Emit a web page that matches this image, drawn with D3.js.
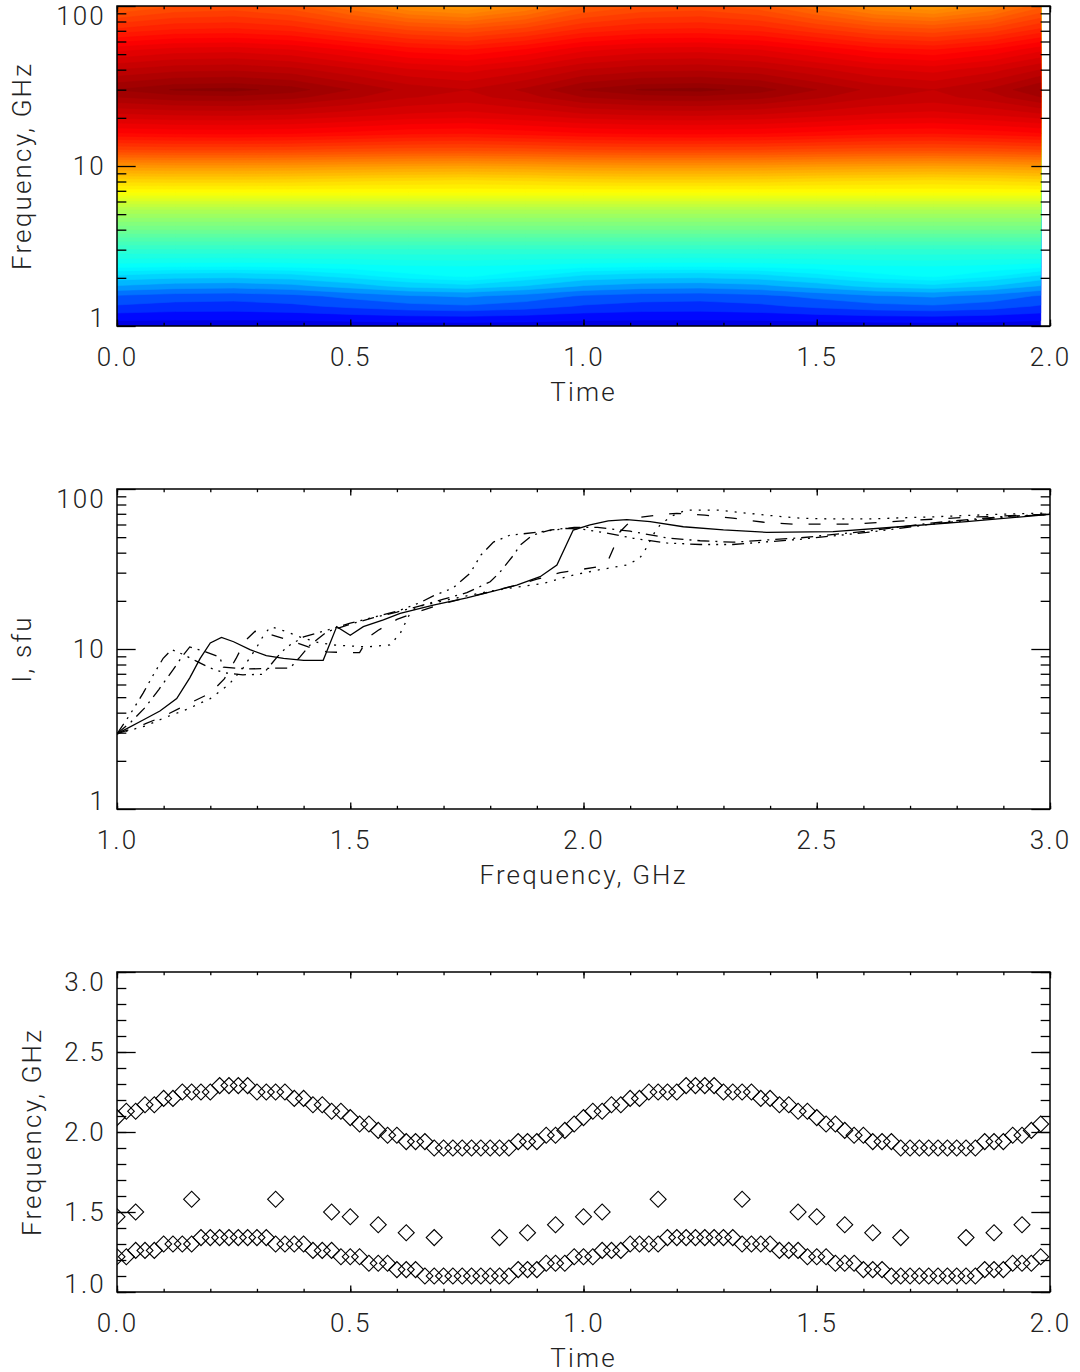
<!DOCTYPE html>
<html>
<head>
<meta charset="utf-8">
<script src="https://cdn.jsdelivr.net/npm/d3@7"></script>
<style>
  html, body { margin: 0; padding: 0; background: #fff; }
  svg { display: block; }
  text { font-family: Roboto, "Liberation Sans", sans-serif; font-weight: 300; font-size: 26px; fill: #222; letter-spacing: 2.2px; }
</style>
</head>
<body>
<svg id="chart" width="1080" height="1372"></svg>
<script>
// ---- panel 1: dynamic spectrum, colour level per (frequency row, time column)
const mapTimes = [0, 0.125, 0.25, 0.375, 0.5, 0.625, 0.75, 0.875, 1.0, 1.125, 1.25, 1.375, 1.5, 1.625, 1.75, 1.875, 1.98];
const mapFreqs = [1.0, 1.15, 1.33, 1.54, 1.78, 2.05, 2.37, 3.0, 4.0, 5.3, 6.9, 8.2, 10, 12.6, 16, 21, 27, 30, 40, 53, 71, 100];
const mapLevels = [
  [0.09,0.09,0.09,0.09,0.092,0.094,0.095,0.094,0.09,0.09,0.09,0.09,0.092,0.094,0.095,0.094,0.09],
  [0.135,0.131,0.13,0.133,0.14,0.147,0.15,0.144,0.135,0.131,0.13,0.133,0.14,0.147,0.15,0.144,0.135],
  [0.181,0.172,0.17,0.177,0.193,0.208,0.215,0.202,0.181,0.172,0.17,0.177,0.193,0.208,0.215,0.202,0.181],
  [0.215,0.203,0.20,0.209,0.23,0.251,0.26,0.242,0.215,0.203,0.20,0.209,0.23,0.251,0.26,0.242,0.215],
  [0.288,0.274,0.27,0.281,0.305,0.33,0.34,0.319,0.288,0.274,0.27,0.281,0.305,0.33,0.34,0.319,0.288],
  [0.341,0.332,0.33,0.337,0.353,0.368,0.375,0.362,0.341,0.332,0.33,0.337,0.353,0.368,0.375,0.362,0.341],
  [0.378,0.376,0.375,0.377,0.38,0.384,0.385,0.382,0.378,0.376,0.375,0.377,0.38,0.384,0.385,0.382,0.378],
  [0.42,0.42,0.42,0.42,0.42,0.42,0.42,0.42,0.42,0.42,0.42,0.42,0.42,0.42,0.42,0.42,0.42],
  [0.485,0.485,0.485,0.485,0.485,0.485,0.485,0.485,0.485,0.485,0.485,0.485,0.485,0.485,0.485,0.485,0.485],
  [0.545,0.545,0.545,0.545,0.545,0.545,0.545,0.545,0.545,0.545,0.545,0.545,0.545,0.545,0.545,0.545,0.545],
  [0.625,0.625,0.625,0.625,0.625,0.625,0.625,0.625,0.625,0.625,0.625,0.625,0.625,0.625,0.625,0.625,0.625],
  [0.668,0.67,0.67,0.669,0.665,0.662,0.66,0.663,0.668,0.67,0.67,0.669,0.665,0.662,0.66,0.663,0.668],
  [0.728,0.73,0.73,0.729,0.725,0.722,0.72,0.723,0.728,0.73,0.73,0.729,0.725,0.722,0.72,0.723,0.728],
  [0.808,0.81,0.81,0.809,0.805,0.802,0.80,0.803,0.808,0.81,0.81,0.809,0.805,0.802,0.80,0.803,0.808],
  [0.871,0.874,0.875,0.873,0.868,0.862,0.86,0.865,0.871,0.874,0.875,0.873,0.868,0.862,0.86,0.865,0.871],
  [0.92,0.924,0.925,0.922,0.915,0.908,0.905,0.911,0.92,0.924,0.925,0.922,0.915,0.908,0.905,0.911,0.92],
  [0.96,0.968,0.97,0.964,0.95,0.936,0.93,0.942,0.96,0.968,0.97,0.964,0.95,0.936,0.93,0.942,0.96],
  [0.973,0.983,0.985,0.978,0.96,0.943,0.935,0.95,0.973,0.983,0.985,0.978,0.96,0.943,0.935,0.95,0.973],
  [0.935,0.943,0.945,0.939,0.925,0.911,0.905,0.917,0.935,0.943,0.945,0.939,0.925,0.911,0.905,0.917,0.935],
  [0.894,0.903,0.905,0.898,0.883,0.867,0.86,0.874,0.894,0.903,0.905,0.898,0.883,0.867,0.86,0.874,0.894],
  [0.838,0.848,0.85,0.843,0.825,0.808,0.80,0.815,0.838,0.848,0.85,0.843,0.825,0.808,0.80,0.815,0.838],
  [0.78,0.796,0.80,0.788,0.76,0.732,0.72,0.744,0.78,0.796,0.80,0.788,0.76,0.732,0.72,0.744,0.78]
];
// contour levels: coarse in the blue part, fine above it
const mapThresholds = [0.08, 0.115, 0.15, 0.185, 0.22, 0.255, 0.29, 0.32, 0.345, 0.36, 0.3725, 0.385, 0.3975, 0.41, 0.4225, 0.435, 0.4475, 0.46, 0.4725, 0.485, 0.4975, 0.51, 0.5225, 0.535, 0.5475, 0.56, 0.5725, 0.585, 0.5975, 0.61, 0.6225, 0.635, 0.6475, 0.66, 0.6725, 0.685, 0.6975, 0.71, 0.7225, 0.735, 0.7475, 0.76, 0.7725, 0.785, 0.7975, 0.81, 0.8225, 0.835, 0.8475, 0.86, 0.8725, 0.885, 0.8975, 0.91, 0.9225, 0.935, 0.9475, 0.96, 0.9725, 0.982];

// ---- panel 2: spectra at five times (frequency GHz, flux sfu)
const specSolidF = [1.00,1.056,1.092,1.128,1.156,1.178,1.20,1.224,1.25,1.285,1.32,1.357,1.40,1.442,1.471,1.50,1.528,1.571,1.607,1.678,1.75,1.807,1.857,1.907,1.943,1.978,2.014,2.053,2.093,2.143,2.214,2.30,2.393,2.535,2.678,2.821,3.00];
const specSolidI = [2.95,3.6,4.1,4.9,6.6,8.7,10.9,11.8,11.1,9.9,9.1,8.75,8.5,8.5,13.8,12.2,13.8,15.2,16.7,18.8,20.9,23.0,25.1,28.3,33.5,55.4,59.6,63.2,64.3,62.5,58.1,55.5,53.6,54.1,58.1,62.5,69.5];
const specDotF = [1.00,1.06,1.10,1.15,1.20,1.24,1.27,1.30,1.315,1.33,1.364,1.392,1.43,1.464,1.535,1.585,1.607,1.628,1.642,1.70,1.75,1.80,1.85,1.914,1.978,2.035,2.093,2.12,2.13,2.153,2.165,2.19,2.22,2.29,2.32,2.39,2.464,2.535,2.61,2.75,2.893,3.00];
const specDotI = [2.95,3.3,3.7,4.2,4.9,6.0,7.6,10.3,12.3,13.8,12.8,11.9,11.0,10.6,10.3,10.6,12.5,16.7,18.3,20.0,21.5,23.0,24.2,25.7,29.0,31.3,33.5,36.8,40.5,53.9,60.0,68.0,73.7,73.7,72.1,68.7,65.7,65.0,65.0,67.0,69.6,70.8];
const specDashF = [1.00,1.06,1.10,1.15,1.20,1.23,1.255,1.275,1.296,1.33,1.37,1.41,1.45,1.49,1.52,1.54,1.56,1.60,1.65,1.70,1.75,1.80,1.85,1.90,1.95,2.028,2.053,2.067,2.078,2.107,2.128,2.17,2.20,2.26,2.32,2.39,2.45,2.58,2.678,2.82,3.00];
const specDashI = [2.95,3.4,3.8,4.5,5.3,6.5,8.7,11.3,12.9,12.3,11.3,10.3,9.6,9.5,9.5,11.9,13.1,15.3,17.3,19.2,21.0,22.8,24.8,27.3,30.0,32.5,35.9,44.5,53.9,65.7,67.0,69.5,70.5,68.7,65.7,61.8,60.3,60.3,63.0,66.5,69.5];
const specDashDotF = [1.00,1.03,1.06,1.09,1.12,1.14,1.156,1.19,1.22,1.228,1.28,1.343,1.371,1.392,1.414,1.45,1.50,1.55,1.60,1.65,1.70,1.75,1.80,1.82,1.85,1.864,1.89,1.93,1.98,2.03,2.10,2.178,2.25,2.32,2.464,2.607,2.75,2.893,3.00];
const specDashDotI = [2.95,3.5,4.3,5.6,7.4,9.0,10.3,9.6,8.9,7.7,7.5,7.6,7.6,8.9,10.6,12.8,14.3,15.7,17.0,18.6,20.5,22.5,26.3,30.0,38.6,44.5,51.4,55.5,57.5,57.5,54.5,49.5,47.5,46.5,49.5,54.5,61.5,67.0,69.5];
const specDash3DotF = [1.00,1.028,1.056,1.078,1.099,1.117,1.14,1.17,1.20,1.23,1.27,1.313,1.33,1.343,1.364,1.40,1.45,1.50,1.55,1.60,1.65,1.678,1.72,1.757,1.78,1.807,1.842,1.907,1.964,2.00,2.05,2.107,2.178,2.25,2.32,2.464,2.607,2.75,2.893,3.00];
const specDash3DotI = [2.95,3.9,5.3,6.9,8.75,9.9,9.3,8.4,7.6,7.1,6.9,6.95,8.0,8.9,10.3,11.9,13.1,14.5,15.8,17.2,19.5,21.5,24.0,29.8,38.6,46.6,51.4,53.9,56.8,56.0,53.0,49.2,46.0,45.0,45.0,48.5,53.5,60.5,66.5,69.5];

// ---- panel 3: cutoff frequencies vs time
const pointTimes = [0,0.02,0.04,0.06,0.08,0.1,0.12,0.14,0.16,0.18,0.2,0.22,0.24,0.26,0.28,0.3,0.32,0.34,0.36,0.38,0.4,0.42,0.44,0.46,0.48,0.5,0.52,0.54,0.56,0.58,0.6,0.62,0.64,0.66,0.68,0.7,0.72,0.74,0.76,0.78,0.8,0.82,0.84,0.86,0.88,0.9,0.92,0.94,0.96,0.98,
  1,1.02,1.04,1.06,1.08,1.1,1.12,1.14,1.16,1.18,1.2,1.22,1.24,1.26,1.28,1.3,1.32,1.34,1.36,1.38,1.4,1.42,1.44,1.46,1.48,1.5,1.52,1.54,1.56,1.58,1.6,1.62,1.64,1.66,1.68,1.7,1.72,1.74,1.76,1.78,1.8,1.82,1.84,1.86,1.88,1.9,1.92,1.94,1.96,1.98];
const upperFreq = [2.09,2.13,2.13,2.17,2.17,2.21,2.21,2.25,2.25,2.25,2.25,2.29,2.29,2.29,2.29,2.25,2.25,2.25,2.25,2.21,2.21,2.17,2.17,2.13,2.13,2.09,2.05,2.05,2.01,1.98,1.98,1.94,1.94,1.94,1.90,1.90,1.90,1.90,1.90,1.90,1.90,1.90,1.90,1.94,1.94,1.94,1.98,1.98,2.01,2.05,
  2.09,2.13,2.13,2.17,2.17,2.21,2.21,2.25,2.25,2.25,2.25,2.29,2.29,2.29,2.29,2.25,2.25,2.25,2.25,2.21,2.21,2.17,2.17,2.13,2.13,2.09,2.05,2.05,2.01,1.98,1.98,1.94,1.94,1.94,1.90,1.90,1.90,1.90,1.90,1.90,1.90,1.90,1.90,1.94,1.94,1.94,1.98,1.98,2.01,2.05];
const lowerFreq = [1.22,1.22,1.26,1.26,1.26,1.30,1.30,1.30,1.30,1.34,1.34,1.34,1.34,1.34,1.34,1.34,1.34,1.30,1.30,1.30,1.30,1.26,1.26,1.26,1.22,1.22,1.22,1.18,1.18,1.18,1.14,1.14,1.14,1.10,1.10,1.10,1.10,1.10,1.10,1.10,1.10,1.10,1.10,1.14,1.14,1.14,1.18,1.18,1.18,1.22,
  1.22,1.22,1.26,1.26,1.26,1.30,1.30,1.30,1.30,1.34,1.34,1.34,1.34,1.34,1.34,1.34,1.34,1.30,1.30,1.30,1.30,1.26,1.26,1.26,1.22,1.22,1.22,1.18,1.18,1.18,1.14,1.14,1.14,1.10,1.10,1.10,1.10,1.10,1.10,1.10,1.10,1.10,1.10,1.14,1.14,1.14,1.18,1.18,1.18,1.22];
const midTimes = [0,0.04,0.16,0.34,0.46,0.5,0.56,0.62,0.68,0.82,0.88,0.94,1.0,1.04,1.16,1.34,1.46,1.5,1.56,1.62,1.68,1.82,1.88,1.94];
const midFreq = [1.47,1.50,1.58,1.58,1.50,1.47,1.42,1.37,1.34,1.34,1.37,1.42,1.47,1.50,1.58,1.58,1.50,1.47,1.42,1.37,1.34,1.34,1.37,1.42];

// ---- layout
const svg = d3.select("#chart");
const left = 117, W = 1050 - 117, H = 320;
const tops = [6, 489, 972];
const midX = left + W / 2;

// jet-like palette (IDL rainbow)
const jet = d3.scaleLinear()
  .domain([0, 0.125, 0.375, 0.625, 0.875, 1])
  .range(["#000080", "#0000ff", "#00ffff", "#ffff00", "#ff0000", "#800000"])
  .clamp(true);

function panel(i){
  const g = svg.append("g").attr("transform", `translate(${left},${tops[i]})`);
  g.append("clipPath").attr("id", "clip" + i)
    .append("rect").attr("width", W).attr("height", H);
  return g;
}

function axes(g, x, y, xMajor, xMinor, yMajor, yMinor, xFmt, yFmt){
  const xt = 0.02 * H, yt = 0.02 * W;//IDL tick lengths
  const put = (axis, tr) => g.append("g").attr("transform", tr).attr("color", "#000")
    .call(axis).call(a => a.select(".domain").remove())
    .call(a => a.selectAll("line").attr("stroke-width", 1.3));
  const none = () => "";
  put(d3.axisBottom(x).tickValues(xMinor).tickSize(-xt / 2).tickFormat(none), `translate(0,${H})`);
  put(d3.axisTop(x).tickValues(xMinor).tickSize(-xt / 2).tickFormat(none), "translate(0,0)");
  put(d3.axisBottom(x).tickValues(xMajor).tickSize(-xt).tickPadding(22).tickFormat(xFmt), `translate(0,${H})`);
  put(d3.axisTop(x).tickValues(xMajor).tickSize(-xt).tickFormat(none), "translate(0,0)");
  put(d3.axisLeft(y).tickValues(yMinor).tickSize(-yt / 2).tickFormat(none), "translate(0,0)");
  put(d3.axisRight(y).tickValues(yMinor).tickSize(-yt / 2).tickFormat(none), `translate(${W},0)`);
  const ya = put(d3.axisLeft(y).tickValues(yMajor).tickSize(-yt).tickPadding(11).tickFormat(yFmt), "translate(0,0)");
  put(d3.axisRight(y).tickValues(yMajor).tickSize(-yt).tickFormat(none), `translate(${W},0)`);
  //end labels sit inside the axis range
  const [y0, y1] = y.domain();
  ya.selectAll("text").attr("dy", d => d === y1 ? "0.73em" : d === y0 ? "0em" : "0.32em");
  g.append("rect").attr("width", W).attr("height", H)
    .attr("fill", "none").attr("stroke", "#000").attr("stroke-width", 1.5);
}

function titles(i, xTitle, yTitle, yx){
  svg.append("text").attr("x", midX).attr("y", tops[i] + H + 66).attr("dy", "0.35em")
    .attr("text-anchor", "middle").text(xTitle);
  svg.append("text").attr("transform", `translate(${yx},${tops[i] + H / 2}) rotate(-90)`)
    .attr("dy", "0.35em").attr("text-anchor", "middle").text(yTitle);
}

const fmt1 = d3.format(".1f");
const logMinor = y => y.ticks().filter(v => [1, 10, 100].indexOf(v) < 0);

// ---- panel 1
{
  const g = panel(0);
  const x = d3.scaleLinear().domain([0, 2]).range([0, W]);
  const y = d3.scaleLog().domain([1, 100]).range([H, 0]);
  const nx = mapTimes.length, ny = mapFreqs.length;
  const values = mapLevels.flat();
  const contours = d3.contours().size([nx, ny]).thresholds(mapThresholds)(values);
  //band colour: middle of [this level, next level)
  const bandColor = (d, k) => jet((d.value + (mapThresholds[k + 1] || 1)) / 2);
  //grid coordinate -> pixel (sample k sits at k + 0.5)
  const gx = d3.scaleLinear().domain(mapTimes.map((_, k) => k + 0.5)).range(mapTimes.map(t => x(t))).clamp(true);
  const gy = d3.scaleLinear().domain(mapFreqs.map((_, k) => k + 0.5)).range(mapFreqs.map(f => y(f))).clamp(true);
  const path = d3.geoPath(d3.geoTransform({ point(px, py){ this.stream.point(gx(px), gy(py)); } }));
  g.append("g").attr("clip-path", "url(#clip0)")
    .selectAll("path").data(contours).join("path")
    .attr("d", path)
    .attr("fill", bandColor)
    .attr("stroke", bandColor)
    .attr("stroke-width", 0.6);
  axes(g, x, y, x.ticks(4), x.ticks(20), [1, 10, 100], logMinor(y), fmt1, d3.format("d"));
  titles(0, "Time", "Frequency, GHz", 22);
}

// ---- panel 2
{
  const g = panel(1);
  const x = d3.scaleLinear().domain([1, 3]).range([0, W]);
  const y = d3.scaleLog().domain([1, 100]).range([H, 0]);
  const line = d3.line().x(d => x(d[0])).y(d => y(d[1]));
  const spectra = [
    { f: specSolidF, s: specSolidI, dash: null },
    { f: specDotF, s: specDotI, dash: "2,7" },
    { f: specDashF, s: specDashI, dash: "12,16" },
    { f: specDashDotF, s: specDashDotI, dash: "12,6,2,6" },
    { f: specDash3DotF, s: specDash3DotI, dash: "12,6,2,6,2,6,2,6" }
  ];
  g.append("g").attr("clip-path", "url(#clip1)")
    .selectAll("path").data(spectra).join("path")
    .attr("d", d => line(d3.zip(d.f, d.s)))
    .attr("fill", "none").attr("stroke", "#000").attr("stroke-width", 1.3)
    .attr("stroke-dasharray", d => d.dash);
  axes(g, x, y, x.ticks(4), x.ticks(20), [1, 10, 100], logMinor(y), fmt1, d3.format("d"));
  titles(1, "Frequency, GHz", "I, sfu", 22);
}

// ---- panel 3
{
  const g = panel(2);
  const x = d3.scaleLinear().domain([0, 2]).range([0, W]);
  const y = d3.scaleLinear().domain([1, 3]).range([H, 0]);
  const diamond = d3.symbol().type(d3.symbolSquare).size(128);
  const pts = [
    ...d3.zip(pointTimes, upperFreq),
    ...d3.zip(pointTimes, lowerFreq),
    ...d3.zip(midTimes, midFreq)
  ];
  g.append("g").attr("clip-path", "url(#clip2)")
    .selectAll("path").data(pts).join("path")
    .attr("d", diamond)
    .attr("transform", d => `translate(${x(d[0])},${y(d[1])}) rotate(45)`)
    .attr("fill", "none").attr("stroke", "#000").attr("stroke-width", 1.1);
  axes(g, x, y, x.ticks(4), x.ticks(20), y.ticks(4), y.ticks(20), fmt1, fmt1);
  titles(2, "Time", "Frequency, GHz", 32);
}
</script>
</body>
</html>
